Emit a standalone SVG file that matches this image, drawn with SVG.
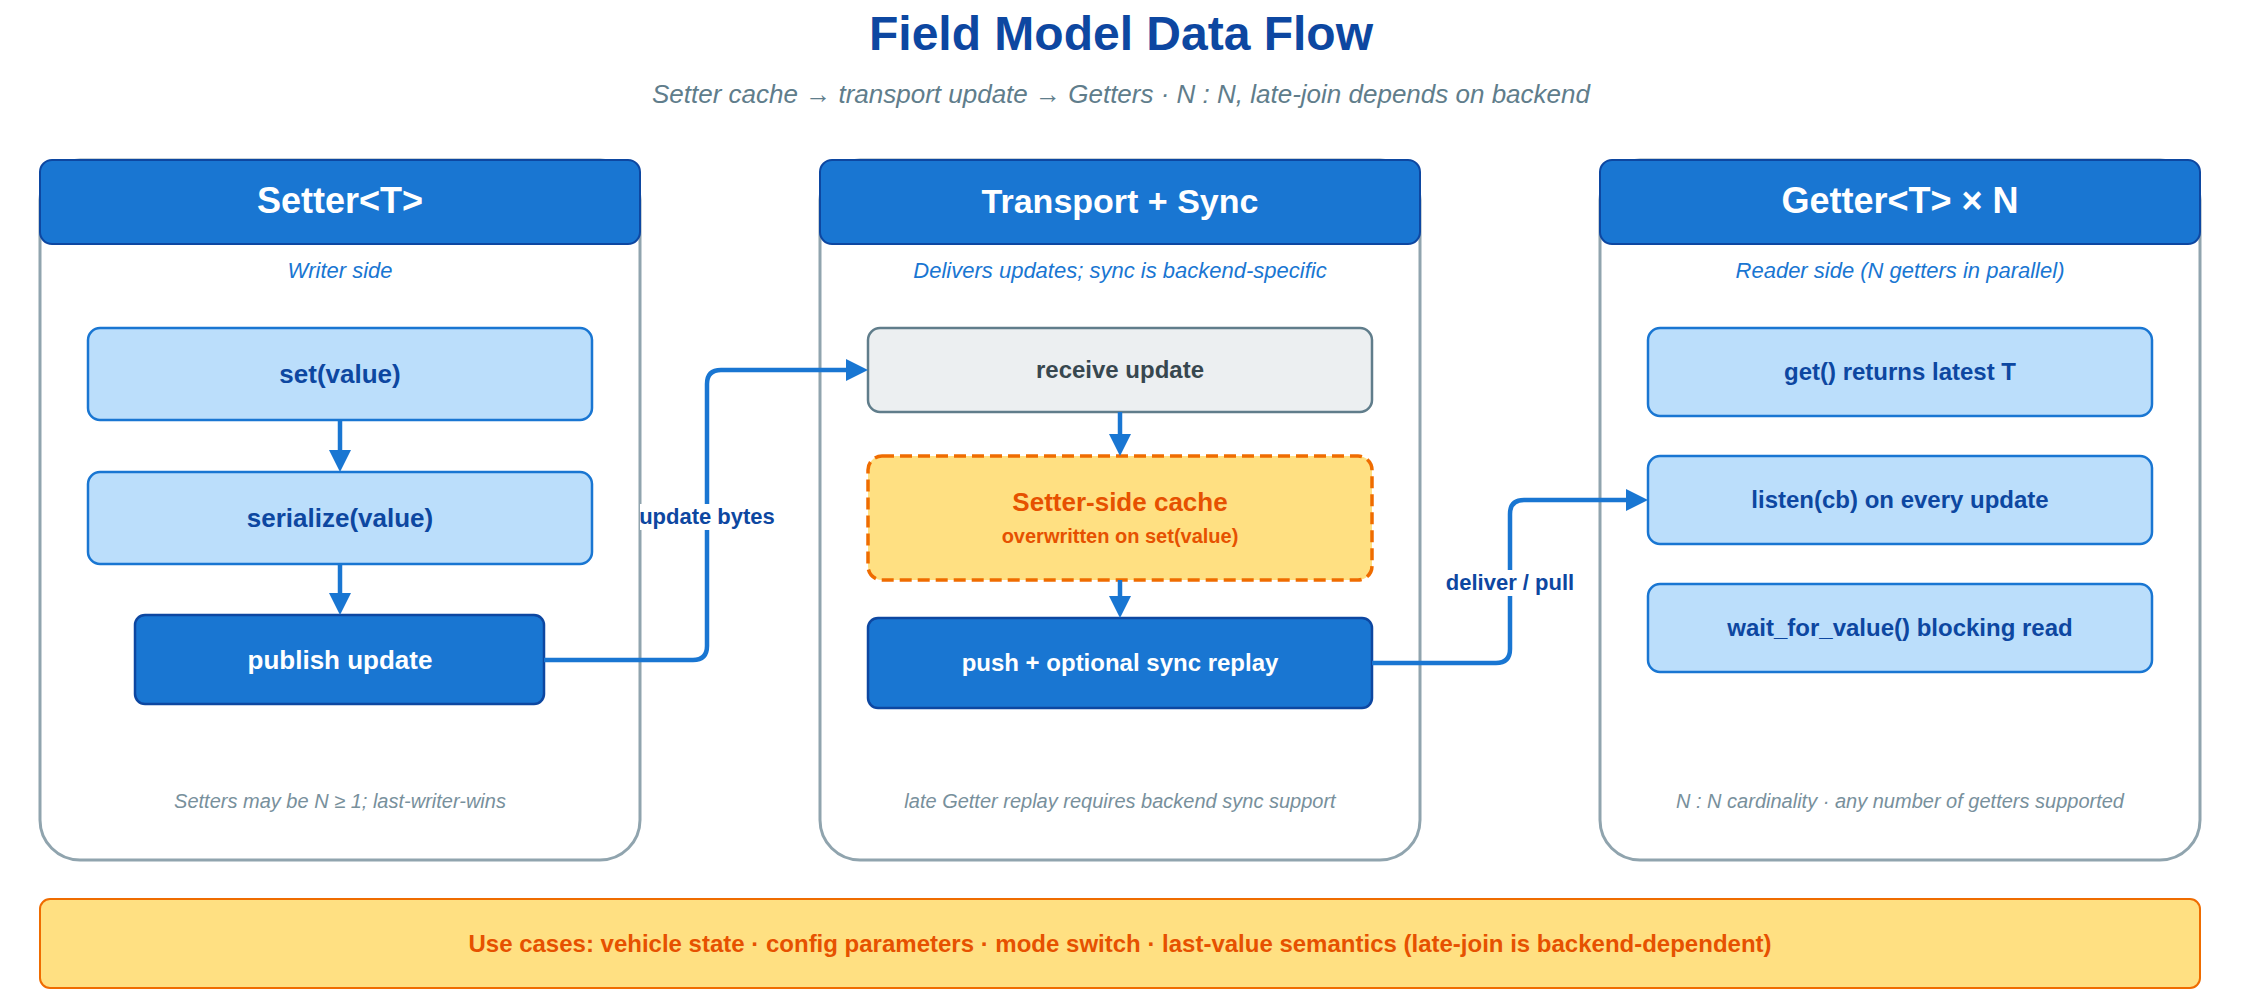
<svg xmlns="http://www.w3.org/2000/svg" width="2242" height="992" viewBox="0 0 2242 992">
<defs>
<style>
text{font-family:"Liberation Sans",Arial,Helvetica,sans-serif;text-anchor:middle}
.panel{fill:#ffffff;stroke:#90a4ae;stroke-width:3}
.hdr{fill:#1976d2;stroke:#0d47a1;stroke-width:2}
.hdrt{fill:#ffffff;font-weight:700}
.note{fill:#1976d2;font-style:italic;font-size:22px}
.foot{fill:#78909c;font-style:italic;font-size:20px}
.lbox{fill:#bbdefb;stroke:#1976d2;stroke-width:2.5}
.dbox{fill:#1976d2;stroke:#0d47a1;stroke-width:2.5}
.gbox{fill:#eceff1;stroke:#607d8b;stroke-width:2.5}
.cbox{fill:#ffe082;stroke:#ef6c00;stroke-width:3.5;stroke-dasharray:12 6}
.bt{fill:#0d47a1;font-weight:700}
.wt{fill:#ffffff;font-weight:700}
.conn{fill:none;stroke:#1976d2;stroke-width:4.5}
.lbl{fill:#0d47a1;font-weight:700;font-size:22px}
.lblbg{fill:#ffffff}
</style>
<marker id="ah" viewBox="0 0 22 22" refX="0" refY="11" markerWidth="22" markerHeight="22" markerUnits="userSpaceOnUse" orient="auto">
<path d="M0,0 L22,11 L0,22 z" fill="#1976d2"/>
</marker>
</defs>
<rect x="0" y="0" width="2242" height="992" fill="#ffffff"/>

<g id="title">
<text x="1121" y="50" style="font-size:48px;font-weight:700;fill:#0d47a1">Field Model Data Flow</text>
<text x="1121" y="103" style="font-size:26px;font-style:italic;fill:#607d8b">Setter cache → transport update → Getters · N : N, late-join depends on backend</text>
</g>

<g id="setter-panel">
<rect class="panel" x="40" y="160" width="600" height="700" rx="40"/>
<rect class="hdr" x="40" y="160" width="600" height="84" rx="12"/>
<text class="hdrt" x="340" y="213" style="font-size:36px">Setter&lt;T&gt;</text>
<text class="note" x="340" y="278">Writer side</text>
<text class="foot" x="340" y="808">Setters may be N ≥ 1; last-writer-wins</text>
</g>
<g id="set-value">
<rect class="lbox" x="88" y="328" width="504" height="92" rx="12"/>
<text class="bt" x="340" y="383" style="font-size:26px">set(value)</text>
</g>
<g id="serialize-value">
<rect class="lbox" x="88" y="472" width="504" height="92" rx="12"/>
<text class="bt" x="340" y="527" style="font-size:26px">serialize(value)</text>
</g>
<g id="publish-update">
<rect class="dbox" x="135" y="615" width="409" height="89" rx="10"/>
<text class="wt" x="340" y="669" style="font-size:26px">publish update</text>
</g>

<g id="transport-panel">
<rect class="panel" x="820" y="160" width="600" height="700" rx="40"/>
<rect class="hdr" x="820" y="160" width="600" height="84" rx="12"/>
<text class="hdrt" x="1120" y="213" style="font-size:34px">Transport + Sync</text>
<text class="note" x="1120" y="278">Delivers updates; sync is backend-specific</text>
<text class="foot" x="1120" y="808">late Getter replay requires backend sync support</text>
</g>
<g id="receive-update">
<rect class="gbox" x="868" y="328" width="504" height="84" rx="12"/>
<text x="1120" y="378" style="font-size:24px;font-weight:700;fill:#37474f">receive update</text>
</g>
<g id="setter-cache">
<rect class="cbox" x="868" y="456" width="504" height="124" rx="14"/>
<text x="1120" y="511" style="font-size:26px;font-weight:700;fill:#e65100">Setter-side cache</text>
<text x="1120" y="543" style="font-size:20px;font-weight:700;fill:#e65100">overwritten on set(value)</text>
</g>
<g id="push-replay">
<rect class="dbox" x="868" y="618" width="504" height="90" rx="10"/>
<text class="wt" x="1120" y="671" style="font-size:24px">push + optional sync replay</text>
</g>

<g id="getter-panel">
<rect class="panel" x="1600" y="160" width="600" height="700" rx="40"/>
<rect class="hdr" x="1600" y="160" width="600" height="84" rx="12"/>
<text class="hdrt" x="1900" y="213" style="font-size:36px">Getter&lt;T&gt; × N</text>
<text class="note" x="1900" y="278">Reader side (N getters in parallel)</text>
<text class="foot" x="1900" y="808">N : N cardinality · any number of getters supported</text>
</g>
<g id="get-latest">
<rect class="lbox" x="1648" y="328" width="504" height="88" rx="12"/>
<text class="bt" x="1900" y="380" style="font-size:24px">get() returns latest T</text>
</g>
<g id="listen-cb">
<rect class="lbox" x="1648" y="456" width="504" height="88" rx="12"/>
<text class="bt" x="1900" y="508" style="font-size:24px">listen(cb) on every update</text>
</g>
<g id="wait-for-value">
<rect class="lbox" x="1648" y="584" width="504" height="88" rx="12"/>
<text class="bt" x="1900" y="636" style="font-size:24px">wait_for_value() blocking read</text>
</g>

<g id="connectors">
<path class="conn" d="M340 420 V450" marker-end="url(#ah)"/>
<path class="conn" d="M340 564 V593" marker-end="url(#ah)"/>
<path class="conn" d="M544 660 H693 Q707 660 707 646 V384 Q707 370 721 370 H846" marker-end="url(#ah)"/>
<path class="conn" d="M1120 412 V434" marker-end="url(#ah)"/>
<path class="conn" d="M1120 580 V596" marker-end="url(#ah)"/>
<path class="conn" d="M1372 663 H1496 Q1510 663 1510 649 V514 Q1510 500 1524 500 H1626" marker-end="url(#ah)"/>
<rect class="lblbg" x="640" y="504" width="134" height="26"/>
<text class="lbl" x="707" y="524">update bytes</text>
<rect class="lblbg" x="1446" y="570" width="128" height="26"/>
<text class="lbl" x="1510" y="590">deliver / pull</text>
</g>

<g id="use-cases">
<rect x="40" y="899" width="2160" height="89" rx="10" fill="#ffe082" stroke="#ef6c00" stroke-width="2"/>
<text x="1120" y="952" style="font-size:24px;font-weight:700;fill:#e65100">Use cases: vehicle state · config parameters · mode switch · last-value semantics (late-join is backend-dependent)</text>
</g>
</svg>
